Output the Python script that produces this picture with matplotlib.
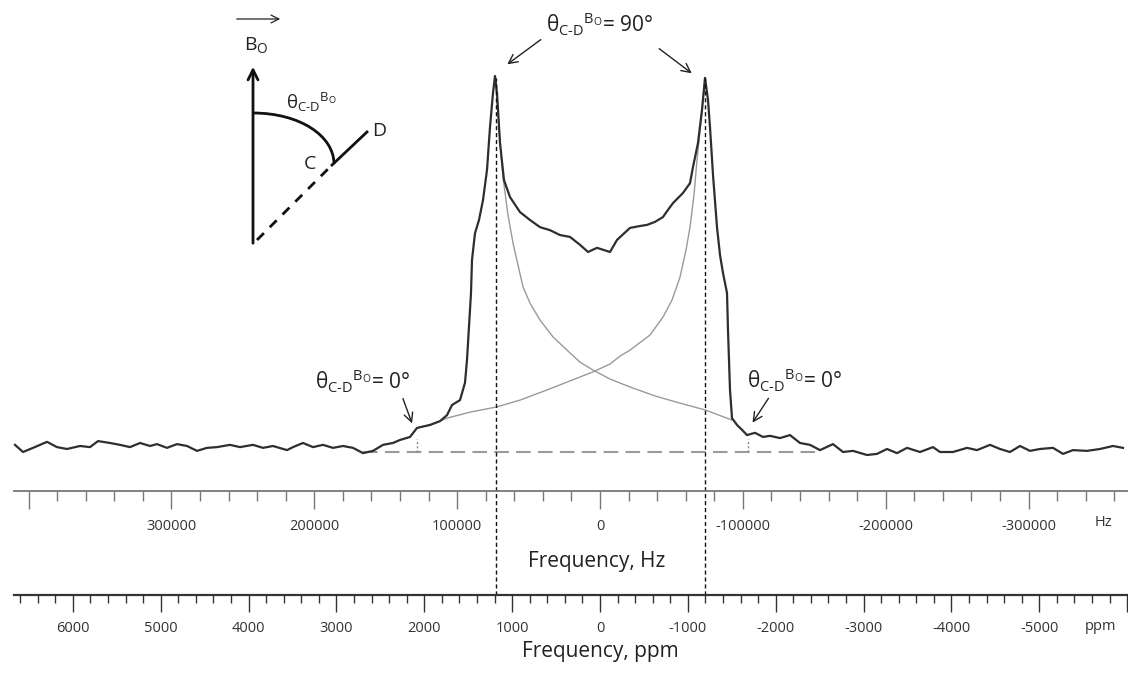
import matplotlib.pyplot as plt
from matplotlib.ticker import FixedLocator, MultipleLocator, FuncFormatter
from matplotlib.path import Path
from matplotlib.patches import PathPatch

# ------------------------------
# Data
# ------------------------------
# measured 2H spectrum: frequency (Hz) and intensity (peak = 100)
SPEC_HZ = [409500, 403900, 396900, 387100, 380100, 373100, 364000, 357000, 351400, 343000,
           336000, 329000, 322000, 315000, 310100, 303100, 296100, 289100, 282100, 275100,
           268100, 259000, 252000, 242900, 235900, 228900, 219100, 214900, 207900, 200900,
           193900, 186900, 179900, 172900, 165900, 158900, 151900, 144900, 140000, 133000,
           128100, 119000, 112000, 107100, 103600, 98000, 94500, 93100, 91700, 90300,
           89600, 87500, 84700, 81900, 79100, 77000, 74900, 73500, 72100, 70000,
           67200, 63000, 56000, 49000, 42000, 35000, 28000, 21000, 14000, 8400,
           2100, -2800, -7000, -11900, -21000, -28000, -32900, -38500, -44100, -47600,
           -51100, -58100, -63000, -65100, -68600, -71400, -73500, -75600, -77000, -79100,
           -81900, -84000, -86100, -88900, -89600, -90300, -91000, -92400, -95900, -99400,
           -102900, -108500, -114100, -119000, -126000, -133000, -140000, -147000, -154000, -163100,
           -170100, -177100, -186900, -193900, -200900, -207900, -214900, -224000, -233100, -238000,
           -247100, -256900, -263900, -273000, -280000, -287000, -294000, -301000, -308000, -317100,
           -324100, -331100, -340900, -350000, -359100, -366100]
SPEC_I = [1.9, 0.0, 1.1, 2.7, 1.3, 0.8, 1.6, 1.3, 2.9, 2.4,
          1.9, 1.3, 2.4, 1.6, 2.1, 1.1, 2.1, 1.6, 0.3, 1.1,
          1.3, 1.9, 1.3, 1.9, 1.1, 1.6, 0.5, 1.3, 2.4, 1.3,
          1.9, 1.1, 1.6, 1.1, -0.3, 0.3, 1.9, 2.4, 3.2, 4.0,
          6.4, 7.2, 8.2, 9.8, 12.5, 13.8, 18.4, 24.5, 33.2, 42.3,
          51.1, 58.2, 61.7, 67.0, 75.0, 86.4, 95.5, 100.0, 95.5, 82.2,
          72.3, 67.8, 63.8, 61.7, 59.8, 59.0, 57.7, 57.2, 55.1, 53.2,
          54.3, 53.7, 53.2, 56.4, 59.6, 60.1, 60.4, 61.2, 62.5, 64.4,
          66.2, 68.9, 71.5, 75.8, 82.2, 91.0, 99.5, 93.6, 86.4, 73.7,
          59.8, 52.4, 47.6, 42.3, 32.4, 24.5, 16.5, 9.0, 7.2, 5.9,
          4.5, 5.1, 4.0, 4.3, 3.7, 4.5, 2.4, 1.9, 0.5, 2.1,
          0.0, 0.3, -0.8, -0.5, 0.8, -0.3, 1.1, 0.0, 1.3, 0.0,
          0.0, 1.1, 0.5, 1.9, 0.8, 0.0, 1.6, 0.3, 0.8, 1.1,
          -0.5, 0.5, 0.3, 0.8, 1.6, 1.1]

# Pake doublet components (thin grey lines)
COMP_B_HZ = [128100, 119000, 107100, 91000, 72100, 56000, 37100, 21000, 4900, -7000,
             -14000, -21000, -35000, -44100, -50400, -56000, -60200, -63000, -65800, -67900,
             -70000, -72100, -73500]
COMP_B_I = [6.4, 7.2, 9.0, 10.6, 12.0, 13.8, 16.5, 18.9, 21.3, 23.4,
            25.5, 27.1, 31.1, 35.9, 40.4, 46.5, 53.7, 59.8, 68.4, 77.7,
            85.6, 93.6, 99.5]
COMP_A_HZ = [73500, 72100, 70000, 67900, 64400, 60900, 53900, 49000, 42000, 32900,
             23100, 14000, 4900, -7000, -21000, -38500, -56000, -73500, -92400]
COMP_A_I = [100.0, 93.6, 83.0, 73.1, 63.0, 55.6, 43.9, 39.6, 35.1, 30.6,
            27.1, 23.9, 21.8, 19.4, 17.3, 14.9, 13.0, 11.2, 8.5]

PEAK_HZ = [72800, -73500]          # theta = 90 deg horns
ZERO_DEG_HZ = [128100, -103600]    # theta = 0 deg edges
BASELINE_HZ = [165900, -154000]    # dashed baseline extent

HZ_MAJOR = [400000, 300000, 200000, 100000, 0, -100000, -200000, -300000]
HZ_LABELLED = [300000, 200000, 100000, 0, -100000, -200000, -300000]
PPM_MAJOR = [6000, 5000, 4000, 3000, 2000, 1000, 0, -1000, -2000, -3000, -4000, -5000, -6000]
PPM_LABELLED = [6000, 5000, 4000, 3000, 2000, 1000, 0, -1000, -2000, -3000, -4000, -5000]
LARMOR_MHZ = 61.5

# ------------------------------
# Layout
# ------------------------------
W, H = 1128, 681
HZ_PER_PX = 700
ZERO_PX = 600
BASE_PX = 452
PX_PER_UNIT = 3.76

plt.rcParams['font.family'] = ['Open Sans', 'DejaVu Sans']
plt.rcParams['mathtext.fontset'] = 'custom'
plt.rcParams['mathtext.rm'] = 'Open Sans'
plt.rcParams['mathtext.it'] = 'Open Sans:italic'
plt.rcParams['mathtext.bf'] = 'Open Sans:bold'

fig = plt.figure(figsize=(W / 100, H / 100), dpi=100)

# spectrum axes covers the whole figure
ax = fig.add_axes([0, 0, 1, 1])
ax.set_xlim(ZERO_PX * HZ_PER_PX, (ZERO_PX - W) * HZ_PER_PX)
ax.set_ylim((BASE_PX - H) / PX_PER_UNIT, BASE_PX / PX_PER_UNIT)
ax.axis('off')

ax.plot(BASELINE_HZ, [0, 0], color='#9a9a9a', lw=1.5, dashes=(7, 3.5))
ax.plot(COMP_A_HZ, COMP_A_I, color='#9a9a9a', lw=1.0)
ax.plot(COMP_B_HZ, COMP_B_I, color='#9a9a9a', lw=1.0)
ax.plot(SPEC_HZ, SPEC_I, color='#2e2e2e', lw=1.6)

for hz in PEAK_HZ:
    ax.axvline(hz, ymin=1 - 595 / H, ymax=1 - 78 / H, color='#111111', lw=1.0, dashes=(3, 2))
for hz in ZERO_DEG_HZ:
    ax.plot([hz, hz], [0, 3.4], color='#888888', lw=1.0, dashes=(1.5, 1.5))


def make_scale(y_px, lim, major, labelled, minor, color, lw, maj_len, min_len):
    a = fig.add_axes([14 / W, 1 - y_px / H, 1 - 14 / W, 1e-4])
    a.set_xlim(*lim)
    a.patch.set_visible(False)
    for s in ['top', 'left', 'right']:
        a.spines[s].set_visible(False)
    a.spines['bottom'].set_color(color)
    a.spines['bottom'].set_linewidth(lw)
    a.set_yticks([])
    a.xaxis.set_major_locator(FixedLocator(major))
    a.xaxis.set_minor_locator(MultipleLocator(minor))
    a.xaxis.set_major_formatter(FuncFormatter(lambda v, p: f'{v:.0f}' if v in labelled else ''))
    a.tick_params(axis='x', which='major', length=maj_len, width=1.0, color=color,
                  labelsize=10.5, labelcolor='#333333', pad=7)
    a.tick_params(axis='x', which='minor', length=min_len, width=1.0, color=color)
    return a


hz_lim = ((ZERO_PX - 14) * HZ_PER_PX, (ZERO_PX - W) * HZ_PER_PX)
make_scale(491, hz_lim, HZ_MAJOR, HZ_LABELLED, 20000, '#777777', 1.3, 13, 7)
ppm_lim = (hz_lim[0] / LARMOR_MHZ, hz_lim[1] / LARMOR_MHZ)
make_scale(595, ppm_lim, PPM_MAJOR, PPM_LABELLED, 200, '#333333', 1.6, 12, 6)

# ------------------------------
# Overlay in pixel coordinates: labels, arrows, inset sketch
# ------------------------------
ov = fig.add_axes([0, 0, 1, 1])
ov.set_xlim(0, W)
ov.set_ylim(H, 0)
ov.axis('off')

ov.text(1103, 523, 'Hz', ha='center', va='center', fontsize=10.5, color='#333333')
ov.text(1101, 626, 'ppm', ha='center', va='center', fontsize=10.5, color='#333333')
ov.text(597, 562, 'Frequency, Hz', ha='center', va='center', fontsize=15, color='#222222')
ov.text(600, 651, 'Frequency, ppm', ha='center', va='center', fontsize=15, color='#222222')

theta = r'$\mathrm{θ_{C\text{-}D}{}^{B_O}}$'
arrow = dict(arrowstyle='->', color='#222222', lw=1.0, mutation_scale=16)
ov.text(600, 24, theta + '= 90°', ha='center', va='center', fontsize=15, color='#222222')
ov.annotate('', xy=(505, 66), xytext=(543, 38), arrowprops=arrow)
ov.annotate('', xy=(694, 75), xytext=(657, 47), arrowprops=arrow)

ov.text(363, 381, theta + '= 0°', ha='center', va='center', fontsize=15, color='#222222')
ov.annotate('', xy=(413, 426), xytext=(402, 396), arrowprops=arrow)
ov.text(795, 380, theta + '= 0°', ha='center', va='center', fontsize=15, color='#222222')
ov.annotate('', xy=(751, 425), xytext=(770, 396), arrowprops=arrow)

# inset: B0 direction and C-D bond angle
ov.annotate('', xy=(283, 19), xytext=(234, 19),
            arrowprops=dict(arrowstyle='->', color='#222222', lw=0.9, mutation_scale=14))
ov.text(256, 45, r'$\mathrm{B_O}$', ha='center', va='center', fontsize=14, color='#222222')
ov.annotate('', xy=(253, 64), xytext=(253, 246),
            arrowprops=dict(arrowstyle='->', color='#111111', lw=2.0, mutation_scale=18))
arc = Path([(253, 113), (300, 113), (334, 136), (334, 164)],
           [Path.MOVETO, Path.CURVE4, Path.CURVE4, Path.CURVE4])
ov.add_patch(PathPatch(arc, fc='none', ec='#111111', lw=2.0))
ov.plot([331, 368], [166, 131], color='#111111', lw=2.0, solid_capstyle='butt')
ov.plot([257, 331], [240, 166], color='#111111', lw=2.0, dashes=(3.5, 3))
ov.text(312, 102, theta, ha='center', va='center', fontsize=13.5, color='#222222')
ov.text(310, 164, 'C', ha='center', va='center', fontsize=14, color='#222222')
ov.text(379, 131, 'D', ha='center', va='center', fontsize=14, color='#222222')

fig.savefig('out.png', dpi=100)
